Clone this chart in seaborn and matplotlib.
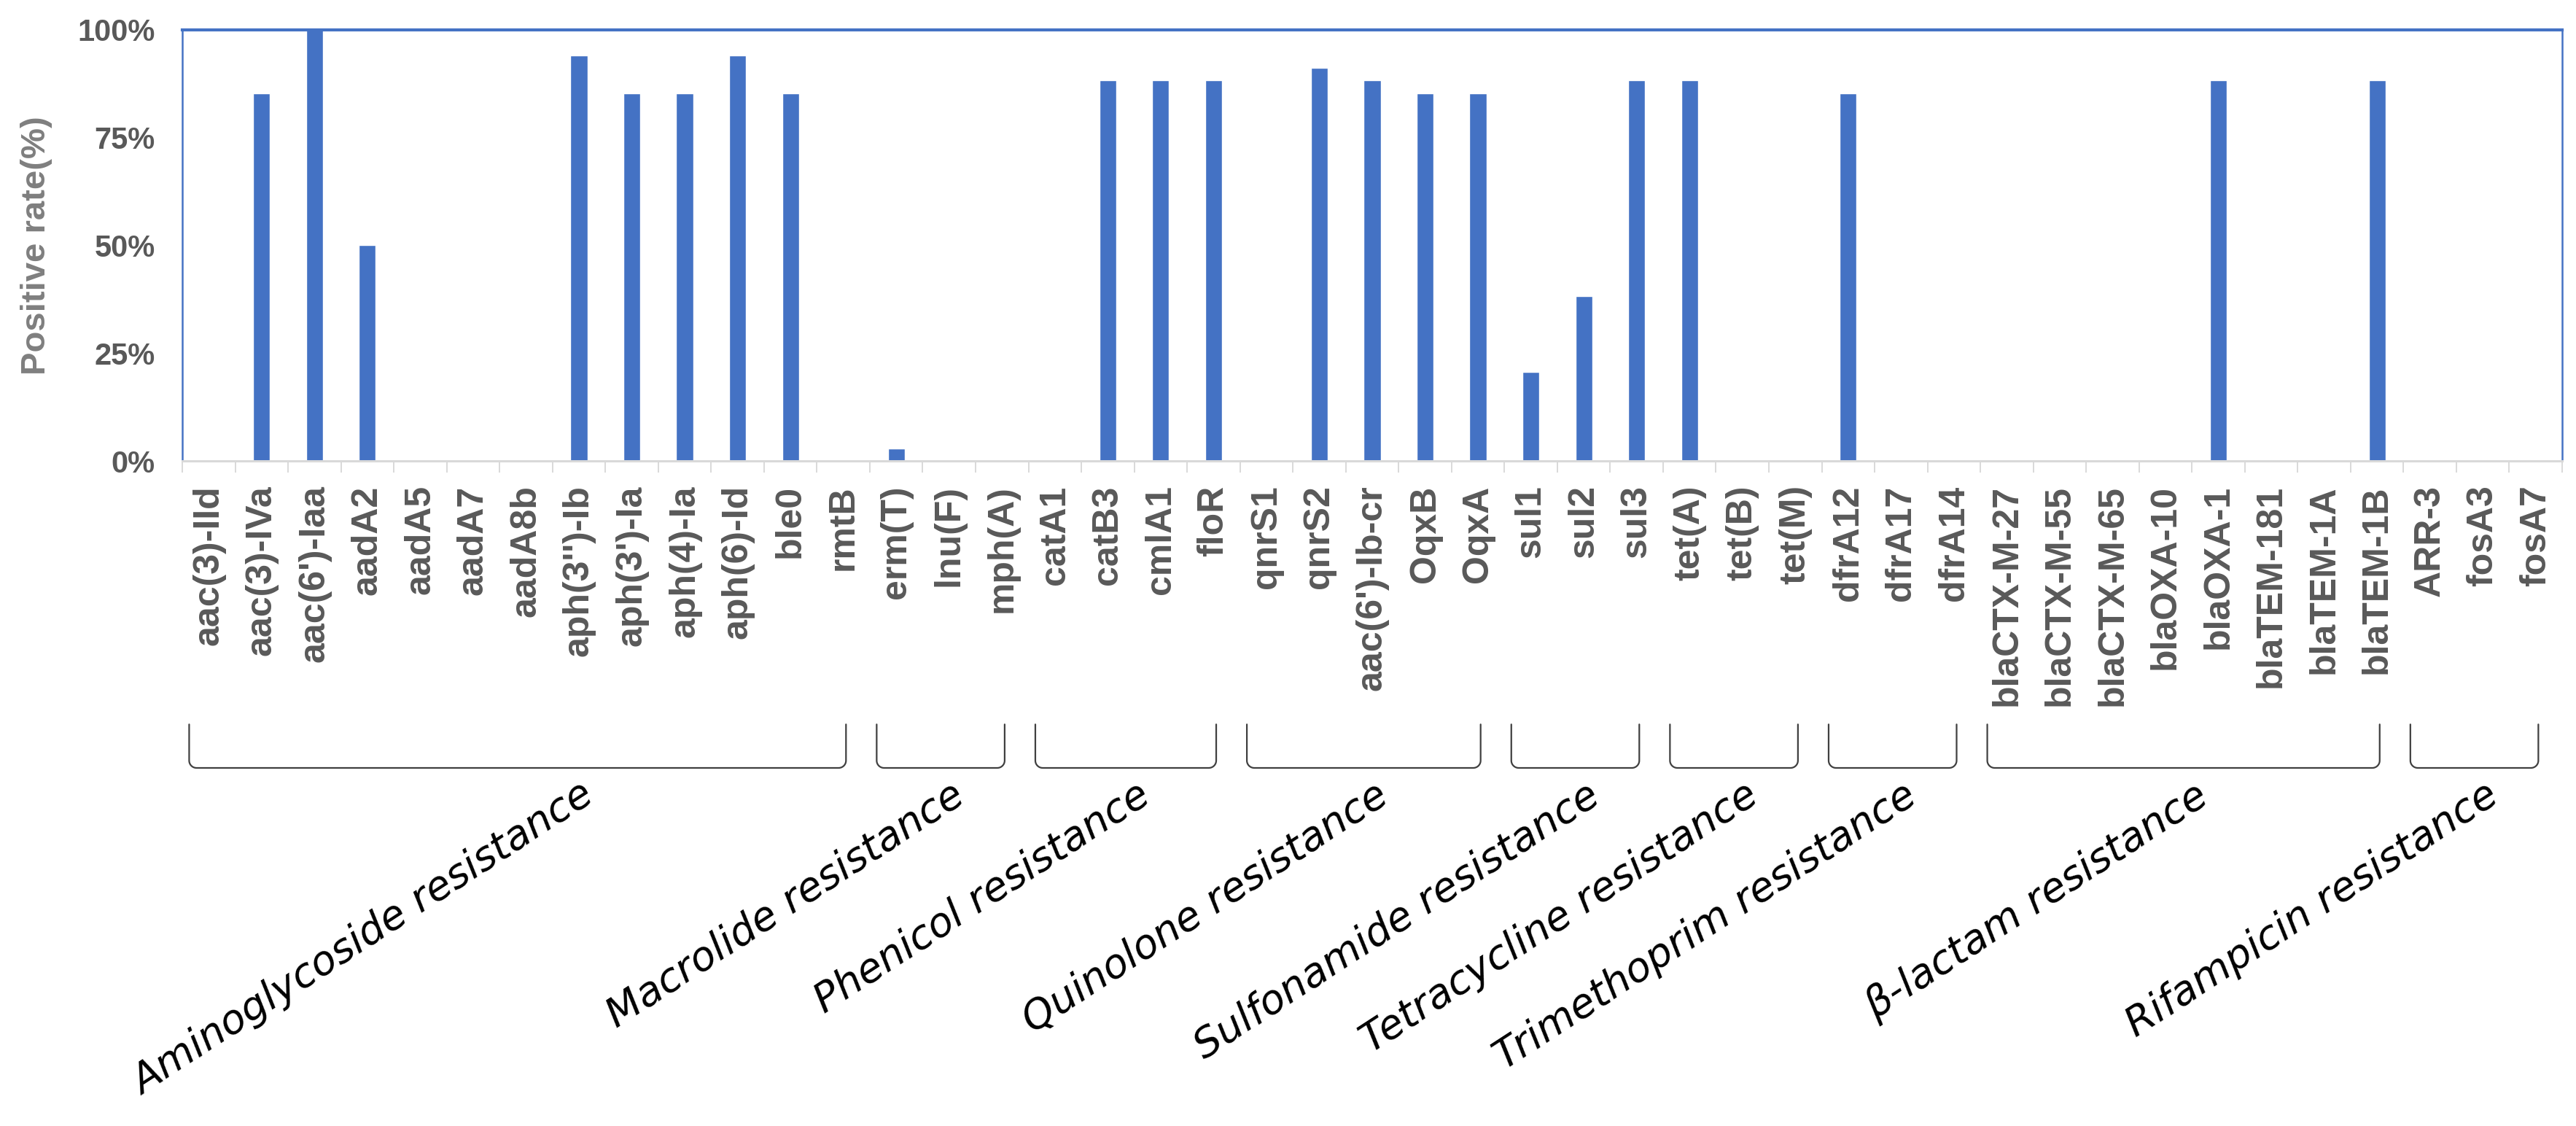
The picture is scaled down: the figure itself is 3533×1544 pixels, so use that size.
import numpy as np
import pandas as pd
import matplotlib
matplotlib.use("Agg")
import matplotlib.pyplot as plt
import seaborn as sns

# gene names in drawing order
genes = ["aac(3)-IId", "aac(3)-IVa", "aac(6')-Iaa", "aadA2", "aadA5", "aadA7", "aadA8b",
         "aph(3'')-Ib", "aph(3')-Ia", "aph(4)-Ia", "aph(6)-Id", "ble0", "rmtB",
         "erm(T)", "lnu(F)", "mph(A)",
         "catA1", "catB3", "cmlA1", "floR",
         "qnrS1", "qnrS2", "aac(6')-Ib-cr", "OqxB", "OqxA",
         "sul1", "sul2", "sul3",
         "tet(A)", "tet(B)", "tet(M)",
         "dfrA12", "dfrA17", "dfrA14",
         "blaCTX-M-27", "blaCTX-M-55", "blaCTX-M-65", "blaOXA-10", "blaOXA-1",
         "blaTEM-181", "blaTEM-1A", "blaTEM-1B",
         "ARR-3", "fosA3", "fosA7"]

# positive rate (%)
rates = [0, 85.3, 100, 50.0, 0, 0, 0,
         94.1, 85.3, 85.3, 94.1, 85.3, 0,
         2.9, 0, 0,
         0, 88.2, 88.2, 88.2,
         0, 91.2, 88.2, 85.3, 85.3,
         20.6, 38.2, 88.2,
         88.2, 0, 0,
         85.3, 0, 0,
         0, 0, 0, 0, 88.2,
         0, 0, 88.2,
         0, 0, 0]

groups = ["Aminoglycoside resistance", "Macrolide resistance", "Phenicol resistance",
          "Quinolone resistance", "Sulfonamide resistance", "Tetracycline resistance",
          "Trimethoprim resistance", "β-lactam resistance", "Rifampicin resistance"]
group_sizes = [13, 3, 4, 5, 3, 3, 3, 8, 3]

yticks = [0, 25, 50, 75, 100]

# extra sideways nudge of each group label (in category units)
label_nudge = [1.0, 0, 0, 0, 0, 0, 0, 0, 0]

sns.set_style("white")
plt.rcParams["font.family"] = ["Liberation Sans", "DejaVu Sans"]

W, H = 3533, 1544
fig = plt.figure(figsize=(W / 100, H / 100), dpi=100)
ax = fig.add_axes([250 / W, 912 / H, 3264 / W, 591.3 / H])

df = pd.DataFrame({"gene": genes, "rate": rates})
sns.barplot(data=df, x="gene", y="rate", color="#4472C4", saturation=1,
            width=0.32, ax=ax)

ax.set_xlim(-0.5, len(genes) - 0.5)
ax.set_ylim(0, 100)
ax.set_yticks(yticks)
ax.set_yticklabels([f"{v}%" for v in yticks], fontweight="bold")
ax.tick_params(axis="y", length=0, pad=27, labelsize=30, labelcolor="#595959")

ax.set_xticks(range(len(genes)))
ax.set_xticklabels(genes, rotation=90, fontweight="bold", color="#595959", fontsize=36)
ax.tick_params(axis="x", which="major", length=0, pad=24)
ax.set_xticks(np.arange(-0.5, len(genes)), minor=True)
ax.tick_params(axis="x", which="minor", length=11.5, width=1.4, color="#d9d9d9",
               direction="out", bottom=True)

ax.set_xlabel("")
ax.set_ylabel("Positive rate(%)", fontsize=34, fontweight="bold", color="#7f7f7f")
ax.yaxis.set_label_coords(-0.0545, 0.5)

for s in ["top", "left", "right"]:
    ax.spines[s].set_color("#4472C4")
    ax.spines[s].set_linewidth(1.8)
ax.spines["top"].set_linewidth(3)
ax.spines["bottom"].set_color("#d9d9d9")
ax.spines["bottom"].set_linewidth(2.2)

# group brackets below the tick labels
trans = ax.get_xaxis_transform()
y_top, y_bot = -0.611, -0.712
rx, ry = 0.14, 0.017
t = np.linspace(0, np.pi / 2, 12)
start = 0
for name, n, nudge in zip(groups, group_sizes, label_nudge):
    x0 = start - 0.5 + 0.13
    x1 = start + n - 0.5 - 0.45
    xs = np.concatenate([[x0], x0 + rx - rx * np.cos(t), x1 - rx + rx * np.sin(t), [x1]])
    ys = np.concatenate([[y_top], y_bot + ry - ry * np.sin(t), y_bot + ry - ry * np.cos(t), [y_top]])
    ax.plot(xs, ys, transform=trans, clip_on=False, color="#404040", lw=1.6)
    xc = (x0 + x1) / 2 + 0.18 + nudge
    ax.text(xc, -0.729, name, transform=trans, rotation=33, rotation_mode="anchor",
            ha="right", va="top", fontsize=40, style="italic", family="DejaVu Sans",
            color="black")
    start += n

fig.savefig("out.png", dpi=100)
